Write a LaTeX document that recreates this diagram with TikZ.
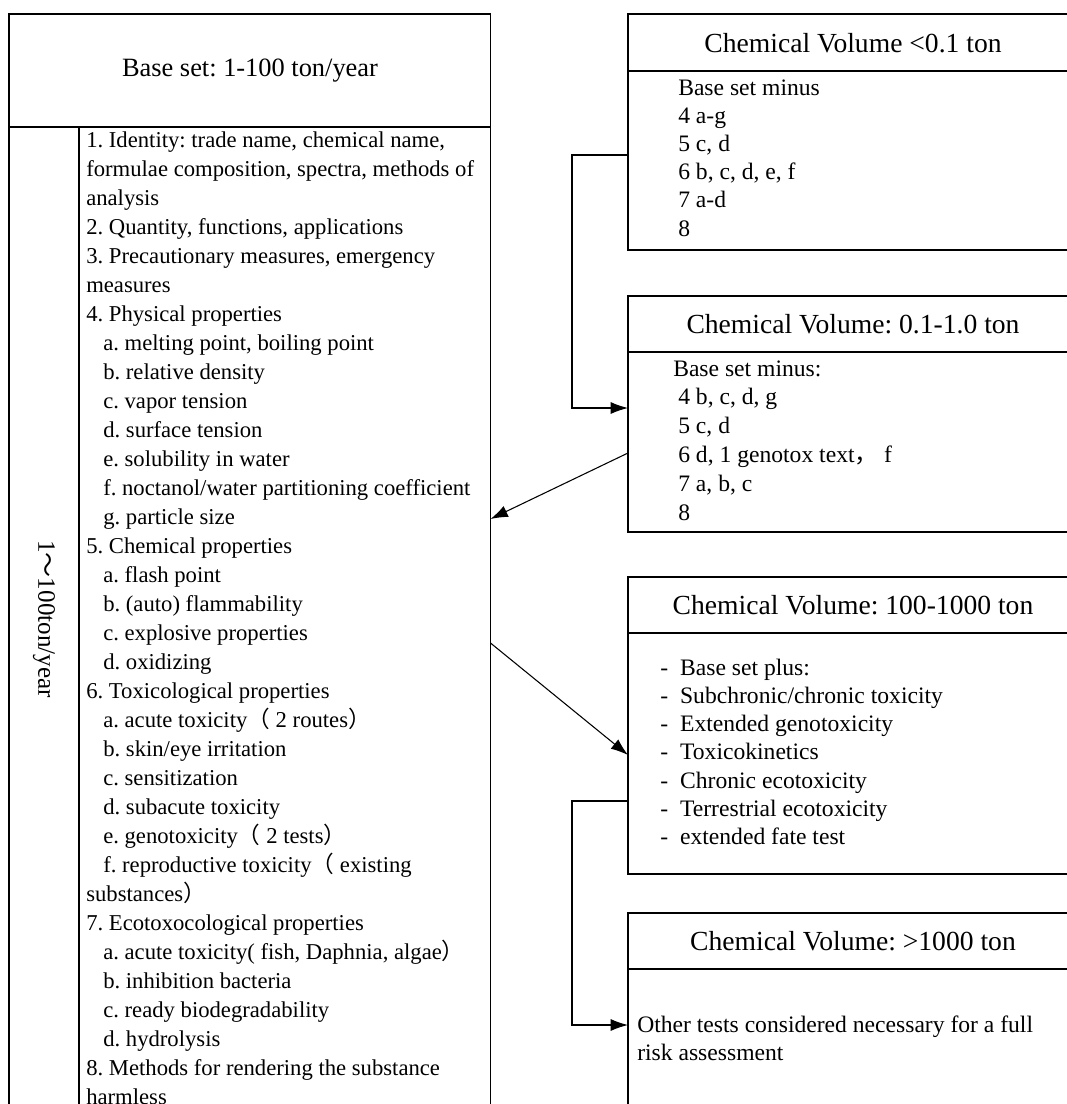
\documentclass[tikz,border=0pt]{standalone}
\usepackage{fontspec}
\setmainfont{Liberation Serif}
\newfontfamily\cjk{Noto Sans CJK SC}
\newcommand{\cj}[1]{{\cjk #1}}
\frenchspacing
\usetikzlibrary{arrows.meta,fit}
\tikzset{
  box/.style={draw, line width=0.9pt, inner sep=0pt, outer sep=0pt},
  rule/.style={line width=0.9pt},
  head/.style={font=\fontsize{20.7pt}{24pt}\selectfont, inner sep=0pt},
  txt/.style={font=\fontsize{17pt}{21.75pt}\selectfont, inner sep=0pt, anchor=base west},
  rtxt/.style={txt, font=\fontsize{17.7pt}{21.75pt}\selectfont},
  arr/.style={line width=0.8pt, -{Latex[length=13pt,width=9pt]}}
}
\begin{document}
\begin{tikzpicture}[x=0.75pt,y=-0.75pt]
\useasboundingbox (0,0) rectangle (1067,1104);
% left box
\node[box, fit={(9,14) (490.5,1125)}] (base) {};
\draw[rule] (base.west |- 0,127) -- (base.east |- 0,127);
\draw[rule] (79,127) -- (79,1125);
\node[head, font=\fontsize{19.8pt}{24pt}\selectfont] (basehead) at (250,71) {Base set: 1-100 ton/year};
\node[font=\fontsize{18.8pt}{22pt}\selectfont, rotate=-90, inner sep=0pt] (range) at (44,619) {1\cj{～}100ton/year};
\foreach \ind/\t [count=\i] in {
 0/{1. Identity: trade name, chemical name,},
 0/{formulae composition, spectra, methods of},
 0/{analysis},
 0/{2. Quantity, functions, applications},
 0/{3. Precautionary measures, emergency},
 0/{measures},
 0/{4. Physical properties},
 1/{a. melting point, boiling point},
 1/{b. relative density},
 1/{c. vapor tension},
 1/{d. surface tension},
 1/{e. solubility in water},
 1/{f. noctanol/water partitioning coefficient},
 1/{g. particle size},
 0/{5. Chemical properties},
 1/{a. flash point},
 1/{b. (auto) flammability},
 1/{c. explosive properties},
 1/{d. oxidizing},
 0/{6. Toxicological properties},
 1/{a. acute toxicity\cj{（} 2 routes\cj{）}},
 1/{b. skin/eye irritation},
 1/{c. sensitization},
 1/{d. subacute toxicity},
 1/{e. genotoxicity\cj{（} 2 tests\cj{）}},
 1/{f. reproductive toxicity\cj{（} existing},
 0/{substances\cj{）}},
 0/{7. Ecotoxocological properties},
 1/{a. acute toxicity( fish, Daphnia, algae\cj{）}},
 1/{b. inhibition bacteria},
 1/{c. ready biodegradability},
 1/{d. hydrolysis},
 0/{8. Methods for rendering the substance},
 0/{harmless}}
{\node[txt] (L\i) at ({86+17*\ind},{147+29*(\i-1)}) {\t};}
% right box 1
\node[box, fit={(628,14) (1078,250)}] (b1) {};
\draw[rule] (b1.west |- 0,71) -- (b1.east |- 0,71);
\node[head] (h1) at (853,43) {Chemical Volume <0.1 ton};
\foreach \t [count=\i] in {Base set minus, 4 a-g, {5 c, d}, {6 b, c, d, e, f}, 7 a-d, 8}
{\node[rtxt] (A\i) at (678,{95+28.2*(\i-1)}) {\t};}
% right box 2
\node[box, fit={(628,296) (1078,532)}] (b2) {};
\draw[rule] (b2.west |- 0,352) -- (b2.east |- 0,352);
\node[head] (h2) at (853,324) {Chemical Volume: 0.1-1.0 ton};
\node[rtxt] (B1) at (673,376) {Base set minus:};
\foreach \t [count=\i from 2] in {{4 b, c, d, g}, {5 c, d}, {6 d, 1 genotox text\cj{，}\ f}, {7 a, b, c}, 8}
{\node[rtxt] (B\i) at (678,{376+28.8*(\i-1)}) {\t};}
% right box 3
\node[box, fit={(628,577) (1078,874)}] (b3) {};
\draw[rule] (b3.west |- 0,633) -- (b3.east |- 0,633);
\node[head] (h3) at (853,605) {Chemical Volume: 100-1000 ton};
\foreach \t [count=\i] in {Base set plus:, Subchronic/chronic toxicity, Extended genotoxicity, Toxicokinetics, Chronic ecotoxicity, Terrestrial ecotoxicity, extended fate test}
{\node[rtxt] (C\i) at (660,{675+28.3*(\i-1)}) {-\hspace{9pt}\t};}
% right box 4
\node[box, fit={(628,913) (1078,1130)}] (b4) {};
\draw[rule] (b4.west |- 0,969) -- (b4.east |- 0,969);
\node[head] (h4) at (853,941) {Chemical Volume: >1000 ton};
\node[rtxt] (D1) at (637,1032) {Other tests considered necessary for a full};
\node[rtxt] (D2) at (637,1060) {risk assessment};
% connectors
\coordinate (k1) at (572,155);
\coordinate (k2) at (572,801);
\draw[arr] (b1.west |- k1) -- (k1) |- (b2.west |- 0,408);
\draw[arr] (b2.west |- 0,453) -- (base.east |- 0,519);
\draw[arr] (base.east |- 0,643) -- (b3.west |- 0,755);
\draw[arr] (b3.west |- k2) -- (k2) |- (b4.west |- 0,1025);
\end{tikzpicture}
\end{document}
